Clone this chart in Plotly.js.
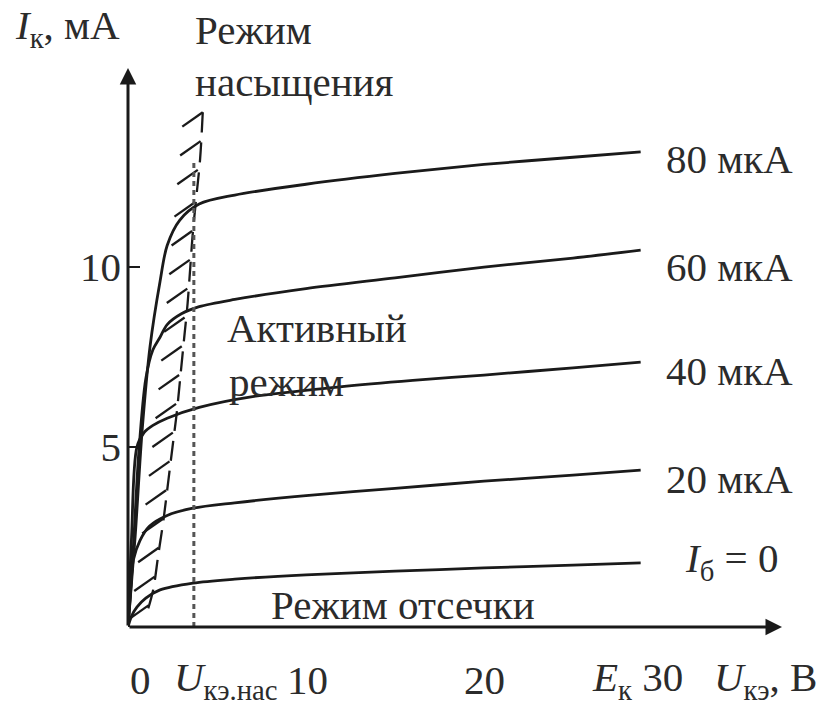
<!DOCTYPE html>
<html><head><meta charset="utf-8">
<script src="https://cdn.plot.ly/plotly-3.0.1.min.js"></script>
<style>html,body{margin:0;padding:0;background:#fff;}#chart{width:820px;height:705px;}</style>
</head><body><div id="chart"></div>
<script>
// ---- Data (U_кэ in V, I_к in mA) ----
const curveNames = ["I_б = 0", "20 мкА", "40 мкА", "60 мкА", "80 мкА"];
const curveLabels = ["<i>I</i><sub>б</sub> = 0", "20 мкА", "40 мкА", "60 мкА", "80 мкА"];
const u0  = [0, 0.2, 0.5, 1.0, 1.8, 3.65, 6, 10, 15, 20, 25, 28.8];
const i0  = [0, 0.3, 0.55, 0.8, 1.03, 1.22, 1.33, 1.45, 1.55, 1.64, 1.72, 1.78];
const u20 = [0, 0.15, 0.3, 0.67, 1.2, 2.2, 3.65, 6, 10, 15, 20, 25, 28.8];
const i20 = [0, 1.0, 1.86, 2.4, 2.8, 3.1, 3.3, 3.45, 3.65, 3.85, 4.05, 4.22, 4.36];
const u40 = [0, 0.2, 0.5, 0.9, 1.4, 2.2, 4, 7, 11.9, 16, 20, 25, 28.8];
const i40 = [0, 2.5, 5.0, 5.4, 5.6, 5.8, 6.1, 6.4, 6.67, 6.85, 7.0, 7.2, 7.36];
const u60 = [0, 0.3, 0.6, 1.0, 1.4, 1.8, 2.2, 3, 4, 6, 10, 15, 20, 25, 28.8];
const i60 = [0, 2.2, 4.8, 6.9, 7.7, 8.05, 8.4, 8.7, 8.9, 9.1, 9.4, 9.7, 10.0, 10.25, 10.47];
const u80 = [0, 0.4, 0.8, 1.24, 1.8, 2.2, 2.9, 4, 6, 10, 15, 20, 25, 28.8];
const i80 = [0, 2.5, 5.5, 7.8, 9.6, 10.6, 11.3, 11.75, 12.0, 12.3, 12.6, 12.85, 13.05, 13.2];

// saturation region boundary (dashed) and its hatch points
const boundU = [4.2, 4.05, 3.85, 3.65, 3.5, 3.35, 3.15, 2.95, 2.75, 2.5, 2.25, 2.0, 1.7, 1.4, 1.0];
const boundI = [14.3, 13.0, 12.0, 11.0, 10.0, 9.0, 8.0, 7.0, 6.0, 5.0, 4.0, 3.0, 2.0, 1.0, 0.3];
const hatchU = [4.2, 4.08, 3.92, 3.76, 3.6, 3.47, 3.33, 3.18, 3.02, 2.87, 2.7, 2.52, 2.33, 2.14, 1.95, 1.72, 1.5, 1.15];
const hatchI = [14.3, 13.5, 12.7, 11.8, 11.0, 10.2, 9.4, 8.6, 7.8, 7.0, 6.2, 5.4, 4.6, 3.8, 3.0, 2.2, 1.4, 0.6];

// U_кэ.нас dotted line
const uSat = 3.7;
const uSatTop = 13.0;

// Axis tick labels
const yTickVals = [5, 10];
const yTickText = ["5", "10"];
const xLabelPos = [0.7, 5.5, 10.1, 20, 28.6, 35.8];
const xLabelText = ["0", "<i>U</i><sub>кэ.нас</sub>", "10", "20", "<i>E</i><sub>к</sub> 30", "<i>U</i><sub>кэ</sub>, В"];

// ---- Build ----
const FONT = "Liberation Serif, Times New Roman, serif";
const INK = "#1a1a1a";
const TXT = "#2b2b2b";
const xMax = 36.74, yMax = 15.53;

const curvesU = [u0, u20, u40, u60, u80];
const curvesI = [i0, i20, i40, i60, i80];
const traces = curvesU.map((u, k) => ({
  x: u, y: curvesI[k], type: "scatter", mode: "lines", name: curveNames[k],
  line: {color: INK, width: 2.8, shape: "spline", smoothing: 0.9},
  hoverinfo: "skip", showlegend: false
}));

// boundary dashed line
traces.push({x: boundU, y: boundI, type: "scatter", mode: "lines",
  line: {color: INK, width: 2.3, dash: "20px,10px", shape: "spline"}, hoverinfo: "skip", showlegend: false});
// hatch strokes
const hx = [], hy = [];
hatchU.forEach((u, k) => {
  hx.push(u, u - 1.15, null);
  hy.push(hatchI[k], hatchI[k] - 0.4, null);
});
traces.push({x: hx, y: hy, type: "scatter", mode: "lines",
  line: {color: INK, width: 2.3}, hoverinfo: "skip", showlegend: false, connectgaps: false});

traces.push({x: [uSat, uSat], y: [0, uSatTop], type: "scatter", mode: "lines",
  line: {color: "#555", width: 3, dash: "5px,4px"}, hoverinfo: "skip", showlegend: false});

const ann = [];
// axes with arrows
ann.push({x: xMax, y: 0, ax: 0, ay: 0, xref: "x", yref: "y", axref: "x", ayref: "y",
  text: "", showarrow: true, arrowhead: 2, arrowsize: 1.1, arrowwidth: 3, arrowcolor: INK});
ann.push({x: 0, y: yMax, ax: 0, ay: 0, xref: "x", yref: "y", axref: "x", ayref: "y",
  text: "", showarrow: true, arrowhead: 2, arrowsize: 1.1, arrowwidth: 3, arrowcolor: INK});

const tf = {family: FONT, size: 41, color: TXT};
// x labels
xLabelPos.forEach((p, k) => ann.push({x: p, y: -0.1, xref: "x", yref: "paper", yanchor: "middle",
  yshift: 3, text: xLabelText[k], showarrow: false, font: tf}));
// y axis title
ann.push({x: -0.092, y: 1.0, xref: "paper", yref: "paper", text: "<i>I</i><sub>к</sub>, мА",
  showarrow: false, font: tf, yanchor: "middle", xanchor: "center", yshift: 40});
// curve labels
const labelY = [1.82, 4.1, 7.1, 10.0, 13.0];
curveLabels.forEach((t, k) => ann.push({x: k === 0 ? 31.2 : 30.1, y: labelY[k], xref: "x", yref: "y",
  text: t, showarrow: false, xanchor: "left", yanchor: "middle", font: tf}));
// region labels
ann.push({x: 3.65, y: 1.0, xref: "x", yref: "paper", yshift: 38, text: "Режим", showarrow: false,
  xanchor: "left", yanchor: "middle", font: tf});
ann.push({x: 3.65, y: 1.0, xref: "x", yref: "paper", yshift: -14, text: "насыщения", showarrow: false,
  xanchor: "left", yanchor: "middle", font: tf});
ann.push({x: 5.45, y: 8.3, xref: "x", yref: "y", text: "Активный", showarrow: false,
  xanchor: "left", yanchor: "middle", font: tf});
ann.push({x: 5.55, y: 6.8, xref: "x", yref: "y", text: "режим", showarrow: false,
  xanchor: "left", yanchor: "middle", font: tf});
ann.push({x: 7.9, y: 0.6, xref: "x", yref: "y", text: "Режим отсечки", showarrow: false,
  xanchor: "left", yanchor: "middle", font: tf});

const layout = {
  width: 820, height: 705,
  margin: {l: 128, r: 38, t: 68, b: 78},
  paper_bgcolor: "#fff", plot_bgcolor: "#fff",
  showlegend: false,
  xaxis: {range: [0, xMax], showgrid: false, zeroline: false, showline: false,
    showticklabels: false, ticks: "", fixedrange: true},
  yaxis: {range: [0, yMax], showgrid: false, zeroline: false, showline: false,
    tickvals: yTickVals, ticktext: yTickText, ticks: "inside", ticklen: 12, tickwidth: 2,
    tickcolor: INK, tickfont: tf, ticklabelstandoff: 6, fixedrange: true},
  annotations: ann
};

Plotly.newPlot("chart", traces, layout, {displayModeBar: false, staticPlot: true});
</script>
</body></html>
